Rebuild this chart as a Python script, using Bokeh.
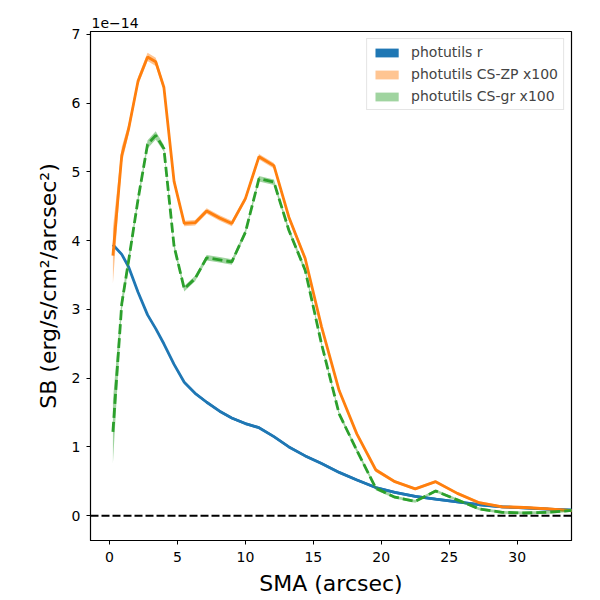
import numpy as np
from bokeh.plotting import figure
from bokeh.models import Span, Range1d, FixedTicker
from bokeh.embed import file_html
from bokeh.resources import INLINE

# semi-major axis of the isophotes (arcsec)
sma = [0.25, 0.9, 1.4, 2.1, 2.8, 3.4, 4.0, 4.75, 5.5, 6.3, 7.15, 8.1, 9.0, 10.0,
       11.0, 12.1, 13.2, 14.4, 15.6, 16.9, 18.2, 19.6, 21.0, 22.5, 24.0, 25.6,
       27.2, 28.9, 30.5, 32.3, 34.2]

# surface brightness in units of 1e-14 erg/s/cm2/arcsec2
sb_r = [3.94, 3.8, 3.62, 3.25, 2.92, 2.72, 2.5, 2.2, 1.94, 1.78, 1.65, 1.52, 1.42,
        1.34, 1.28, 1.15, 1.0, 0.87, 0.76, 0.63, 0.52, 0.41, 0.34, 0.28, 0.24,
        0.2, 0.16, 0.13, 0.115, 0.095, 0.08]
sb_r_err = [0.02] * len(sma)

sb_zp = [3.78, 5.24, 5.62, 6.32, 6.67, 6.6, 6.23, 4.86, 4.25, 4.26, 4.43, 4.33,
         4.25, 4.61, 5.22, 5.09, 4.34, 3.74, 2.75, 1.82, 1.19, 0.665, 0.495, 0.39,
         0.495, 0.325, 0.19, 0.13, 0.12, 0.1, 0.07]
sb_zp_err = [0.4, 0.12, 0.08, 0.06, 0.06, 0.06, 0.05, 0.05, 0.04, 0.04, 0.04, 0.04,
             0.04, 0.04, 0.04, 0.04, 0.04, 0.04, 0.03, 0.03, 0.03, 0.03, 0.02, 0.02,
             0.02, 0.02, 0.02, 0.02, 0.02, 0.02, 0.02]

sb_gr = [1.22, 3.08, 3.7, 4.6, 5.4, 5.53, 5.34, 3.92, 3.3, 3.45, 3.75, 3.72,
         3.69, 4.12, 4.9, 4.85, 4.15, 3.57, 2.5, 1.48, 0.95, 0.4, 0.27, 0.21,
         0.36, 0.23, 0.1, 0.05, 0.04, 0.05, 0.08]
sb_gr_err = [0.46, 0.1, 0.08, 0.06, 0.06, 0.06, 0.05, 0.05, 0.04, 0.04, 0.04, 0.04,
             0.04, 0.04, 0.04, 0.04, 0.04, 0.04, 0.03, 0.03, 0.03, 0.03, 0.02, 0.02,
             0.02, 0.02, 0.02, 0.02, 0.02, 0.02, 0.02]

y_ticks = [0, 1, 2, 3, 4, 5, 6, 7]
x_ticks = [0, 5, 10, 15, 20, 25, 30]

FONT = "DejaVu Sans"

# the "1e-14" offset text sits where matplotlib puts it: above the top left corner
p = figure(width=600, height=600, output_backend="svg", toolbar_location=None,
           x_range=Range1d(-1.4, 34), y_range=Range1d(-0.36, 7.04),
           min_border_left=90, min_border_right=29, min_border_top=31,
           min_border_bottom=60, title="1e\u221214")
p.title.align = "left"
p.title.text_font = FONT
p.title.text_font_size = "14px"
p.title.text_font_style = "normal"
p.title.text_color = "black"
p.title.standoff = 7
p.title.offset = 1

p.grid.visible = False
p.outline_line_color = "black"
p.outline_line_width = 1.2

x = np.array(sma)
series = [
    (sb_r, sb_r_err, "#1f77b4", 1.0, "photutils r", "solid"),
    (sb_zp, sb_zp_err, "#ff7f0e", 0.45, "photutils CS-ZP x100", "solid"),
    (sb_gr, sb_gr_err, "#2ca02c", 0.45, "photutils CS-gr x100", "10 4"),
]
for vals, err, color, alpha, label, dash in series:
    v = np.array(vals)
    e = np.array(err)
    p.varea(x=x, y1=v - e, y2=v + e, fill_color=color, fill_alpha=alpha,
            legend_label=label)
    p.line(x, v, line_color=color, line_width=2.8, line_dash=dash)

p.add_layout(Span(location=0, dimension="width", line_color="black",
                  line_width=1.8, line_dash="8 3"))

for ax in (p.xaxis, p.yaxis):
    ax.major_label_text_font = FONT
    ax.major_label_text_font_size = "14px"
    ax.major_label_text_color = "black"
    ax.axis_label_text_font = FONT
    ax.axis_label_text_font_size = "22px"
    ax.axis_label_text_font_style = "normal"
    ax.axis_label_text_color = "black"
    ax.minor_tick_line_color = None
    ax.major_tick_in = 0
    ax.major_tick_out = 4
    ax.major_tick_line_color = "black"
    ax.axis_line_color = "black"

p.xaxis.major_label_standoff = 7
p.xaxis.axis_label_standoff = 6
p.yaxis.major_label_standoff = 6
p.yaxis.axis_label_standoff = 8

p.xaxis.ticker = FixedTicker(ticks=x_ticks)
p.yaxis.ticker = FixedTicker(ticks=y_ticks)
p.xaxis.axis_label = "SMA (arcsec)"
p.yaxis.axis_label = "SB (erg/s/cm\u00b2/arcsec\u00b2)"

p.legend.location = "top_right"
p.legend.margin = 7
p.legend.padding = 5
p.legend.spacing = 6
p.legend.glyph_width = 29
p.legend.glyph_height = 11
p.legend.label_height = 14
p.legend.label_standoff = 10
p.legend.label_text_font = FONT
p.legend.label_text_font_size = "14px"
p.legend.border_line_color = "#cccccc"
p.legend.background_fill_alpha = 0.8

open("out.html", "w").write(file_html(p, INLINE))
